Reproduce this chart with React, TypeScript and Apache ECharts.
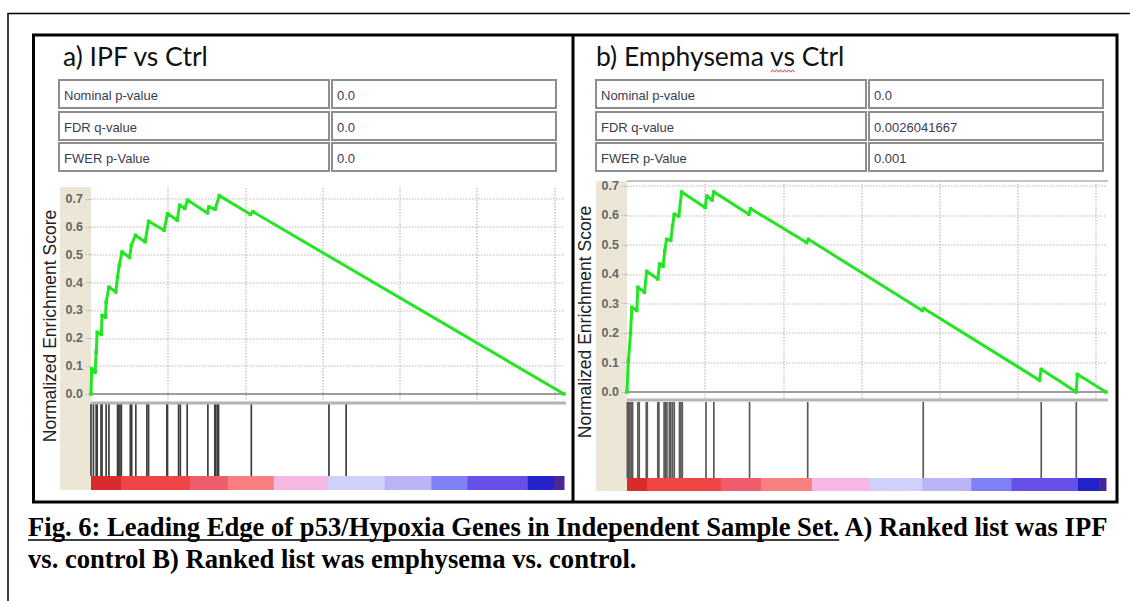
import React, { useEffect, useRef } from "react";
import * as echarts from "echarts";

// ---------------- data ----------------
const N_GENES = 12250;
const X_TICK_STEP = 2000;

const leftTitle = "a) IPF vs Ctrl";
const rightTitle = "b) Emphysema vs Ctrl";
const statLabels = ["Nominal p-value", "FDR q-value", "FWER p-Value"];
const leftStats = ["0.0", "0.0", "0.0"];
const rightStats = ["0.0", "0.0026041667", "0.001"];
const yAxisTitle = "Normalized Enrichment Score";

const leftRunRank = [0, 18, 107, 134, 161, 268, 286, 375, 393, 464, 643, 688, 732, 804, 1000, 1045, 1152, 1402, 1491, 1893, 1982, 2232, 2295, 2429, 2500, 3009, 3054, 3214, 3322, 4125, 4197, 12250];
const leftRunES = [0, 0.09, 0.078, 0.15, 0.222, 0.214, 0.282, 0.276, 0.33, 0.384, 0.366, 0.42, 0.462, 0.51, 0.49, 0.534, 0.57, 0.546, 0.62, 0.588, 0.648, 0.624, 0.678, 0.666, 0.696, 0.65, 0.672, 0.663, 0.712, 0.645, 0.654, 0];
const leftHits = [0, 63, 134, 161, 259, 286, 393, 464, 688, 714, 750, 786, 1018, 1054, 1161, 1447, 1491, 1965, 1982, 2268, 2313, 2491, 3027, 3206, 3233, 3277, 3304, 4152, 6162, 6608];

const rightRunRank = [0, 36, 90, 125, 251, 278, 448, 502, 788, 833, 922, 967, 1012, 1119, 1164, 1209, 1325, 1397, 1997, 2042, 2176, 2221, 3116, 3161, 4594, 4639, 7549, 7594, 10549, 10594, 11490, 11517, 12250];
const rightRunES = [0, 0.107, 0.2, 0.288, 0.277, 0.356, 0.339, 0.41, 0.384, 0.435, 0.427, 0.48, 0.519, 0.515, 0.564, 0.604, 0.598, 0.68, 0.627, 0.666, 0.652, 0.68, 0.604, 0.623, 0.508, 0.519, 0.277, 0.284, 0.04, 0.077, 0.0, 0.06, 0];
const rightHits = [9, 36, 72, 107, 143, 278, 313, 493, 519, 788, 815, 949, 985, 1021, 1084, 1119, 1164, 1209, 1343, 1379, 1415, 2020, 2221, 3134, 4621, 7576, 10594, 11490];

const leftHeatBreaks = [0, 777, 2563, 3545, 4732, 6135, 7608, 8813, 9751, 11313, 11983, 12250];
const rightHeatBreaks = [0, 519, 2400, 3429, 4728, 6206, 7549, 8803, 9833, 11534, 12072, 12250];
const heatPalette = ["#d92b2b", "#ee4545", "#ef5d6c", "#f77f80", "#f6b8e2", "#cfd0fc", "#bab4f6", "#8080f6", "#6650e8", "#2323c9", "#4b2699"];

const captionUnderlined = "Fig. 6: Leading Edge of p53/Hypoxia Genes in Independent Sample Set.";
const captionRest = " A) Ranked list was IPF";
const captionLine2 = "vs. control B) Ranked list was emphysema vs. control.";

// ---------------- layout ----------------
const SANS = "'Liberation Sans', Arial, sans-serif";
const SERIF = "'Liberation Serif', 'Times New Roman', serif";
const TITLE_FONT = "Lato, 'Open Sans', sans-serif";
const CAP_SIZE = 26.6;
const TITLE_SIZE = 26.5;

const panels = [
  {
    title: leftTitle, stats: leftStats, rank: leftRunRank, es: leftRunES, hits: leftHits, heat: leftHeatBreaks,
    x0: 91, x1: 564, esTop: 188, esBot: 403, y0: 394, y7: 199, hitsTop: 404, hitsBot: 476, heatBot: 490,
    beigeX: 60, beigeTop: 187, titleX: 63, cells: [59, 329, 332, 556], yTitleX: 50, yTitleY: 326, topBorder: false,
    hitColor: "#3e3e3e",
  },
  {
    title: rightTitle, stats: rightStats, rank: rightRunRank, es: rightRunES, hits: rightHits, heat: rightHeatBreaks,
    x0: 627, x1: 1106, esTop: 181, esBot: 400, y0: 392, y7: 186, hitsTop: 402, hitsBot: 478, heatBot: 491,
    beigeX: 596, beigeTop: 181, titleX: 596, cells: [596, 866, 869, 1103], yTitleX: 585, yTitleY: 322, topBorder: true,
    hitColor: "#5a5a5a",
  },
];
const rowTops = [80, 112, 143];
const rowH = 28;

function measure(text: string, font: string): number {
  const c = document.createElement("canvas").getContext("2d");
  if (!c) return text.length * 10;
  c.font = font;
  return c.measureText(text).width;
}

function txt(text: string, x: number, y: number, o: any = {}) {
  const align = o.align || "left";
  const va = o.va || "middle";
  return {
    type: "text",
    x, y,
    rotation: o.rotation || 0,
    z: o.z ?? 20,
    silent: true,
    style: {
      text,
      fontSize: o.size || 13,
      fontFamily: o.family || SANS,
      fontWeight: o.weight || "normal",
      fill: o.color || "#000",
      align, textAlign: align,
      verticalAlign: va, textVerticalAlign: va,
    },
  };
}

export default function App() {
  const ref = useRef<HTMLDivElement>(null);
  useEffect(() => {
    if (!ref.current) return;
    const chart = echarts.init(ref.current, null, { renderer: "svg" });

    const grid: any[] = [];
    const xAxis: any[] = [];
    const yAxis: any[] = [];
    const series: any[] = [];
    const graphic: any[] = [];

    panels.forEach((p, pi) => {
      const per = (p.y0 - p.y7) / 0.7;
      const yMax = 0.7 + (p.y7 - p.esTop) / per;
      const yMin = -(p.esBot - p.y0) / per;
      const w = p.x1 - p.x0;
      const gi = pi * 3;
      grid.push({ left: p.x0, top: p.esTop, width: w, height: p.esBot - p.esTop });
      grid.push({ left: p.x0, top: p.hitsTop, width: w, height: p.hitsBot - p.hitsTop });
      grid.push({ left: p.x0, top: p.hitsBot, width: w, height: p.heatBot - p.hitsBot });

      xAxis.push({
        type: "value", gridIndex: gi, min: 0, max: N_GENES, interval: X_TICK_STEP,
        axisLine: { show: false }, axisTick: { show: false }, axisLabel: { show: false },
        splitLine: { show: true, showMinLine: false, showMaxLine: false, lineStyle: { type: "dotted", color: "#c8c8c8", width: 1.5 } },
      });
      yAxis.push({
        type: "value", gridIndex: gi, min: yMin, max: yMax, splitNumber: 8,
        axisLine: { show: false },
        axisTick: { show: true, length: 5, lineStyle: { color: "#aaa", type: "dotted" } },
        axisLabel: {
          show: true, showMinLabel: false, showMaxLabel: false, margin: 8,
          fontSize: 12.5, fontWeight: "bold", color: "#666", fontFamily: SANS,
          formatter: (v: number) => v.toFixed(1),
        },
        splitLine: { show: true, showMinLine: false, showMaxLine: false, lineStyle: { type: "dotted", color: "#cfcfcf", width: 1.5 } },
      });
      for (let k = 1; k <= 2; k++) {
        xAxis.push({ type: "value", gridIndex: gi + k, min: 0, max: N_GENES, show: false, splitLine: { show: false } });
        yAxis.push({ type: "value", gridIndex: gi + k, min: 0, max: 1, show: false, splitLine: { show: false } });
      }

      series.push({
        type: "line", xAxisIndex: gi, yAxisIndex: gi,
        data: p.rank.map((r, i) => [r, p.es[i]]),
        symbol: "rect", symbolSize: 3.5, showSymbol: true,
        itemStyle: { color: "#22e622" },
        lineStyle: { color: "#22e622", width: 3 },
        z: 5, silent: true,
        markLine: {
          silent: true, symbol: "none", label: { show: false },
          lineStyle: { color: "#9c9c9c", width: 2, type: "solid" },
          data: [{ yAxis: 0 }],
          z: 3,
        },
      });
      const hitColor = p.hitColor;
      series.push({
        type: "custom", xAxisIndex: gi + 1, yAxisIndex: gi + 1, silent: true,
        data: p.hits.map((h) => [h, 0]),
        renderItem: (_params: any, api: any) => {
          const a = api.coord([api.value(0), 1]);
          const b = api.coord([api.value(0), 0]);
          return { type: "line", shape: { x1: a[0], y1: a[1], x2: b[0], y2: b[1] }, style: { stroke: hitColor, lineWidth: 1.7 } };
        },
      });
      const segs = p.heat.slice(0, -1).map((s, i) => [s, p.heat[i + 1], i]);
      series.push({
        type: "custom", xAxisIndex: gi + 2, yAxisIndex: gi + 2, silent: true,
        data: segs,
        encode: { x: [0, 1] },
        renderItem: (_params: any, api: any) => {
          const a = api.coord([api.value(0), 1]);
          const b = api.coord([api.value(1), 0]);
          return {
            type: "rect",
            shape: { x: a[0], y: a[1], width: b[0] - a[0] + 0.5, height: b[1] - a[1] },
            style: { fill: heatPalette[api.value(2)] },
          };
        },
      });

      graphic.push({
        type: "rect", z: -1, silent: true,
        shape: { x: p.beigeX, y: p.beigeTop, width: p.x0 - p.beigeX, height: p.heatBot - p.beigeTop },
        style: { fill: "#ebe6d6" },
      });
      graphic.push(txt(p.title, p.titleX, 56, { size: TITLE_SIZE, family: TITLE_FONT, color: "#111" }));
      rowTops.forEach((ty, ri) => {
        graphic.push({ type: "rect", z: 5, silent: true, shape: { x: p.cells[0], y: ty, width: p.cells[1] - p.cells[0], height: rowH }, style: { fill: "#fff", stroke: "#8e8e8e", lineWidth: 2 } });
        graphic.push({ type: "rect", z: 5, silent: true, shape: { x: p.cells[2], y: ty, width: p.cells[3] - p.cells[2], height: rowH }, style: { fill: "#fff", stroke: "#8e8e8e", lineWidth: 2 } });
        graphic.push(txt(statLabels[ri], p.cells[0] + 5, ty + rowH / 2 + 1, { size: 13, color: "#3b3b52" }));
        graphic.push(txt(p.stats[ri], p.cells[2] + 5, ty + rowH / 2 + 1, { size: 13, color: "#3b3b52" }));
      });
      graphic.push(txt(yAxisTitle, p.yTitleX, p.yTitleY, { size: 17.5, color: "#222", align: "center", rotation: Math.PI / 2 }));
      graphic.push({
        type: "line", z: 30, silent: true,
        shape: { x1: p.x0, y1: p.esBot, x2: p.x1 + 2, y2: p.esBot },
        style: { stroke: "#b4b4b4", lineWidth: 3 },
      });
      if (p.topBorder) {
        graphic.push({
          type: "line", z: 30, silent: true,
          shape: { x1: p.x0, y1: p.esTop, x2: p.x1 + 2, y2: p.esTop },
          style: { stroke: "#c4c4c4", lineWidth: 2 },
        });
      }
    });

    graphic.push({ type: "polyline", z: 40, silent: true, shape: { points: [[8, 601], [8, 13.5], [1131, 13.5]] }, style: { stroke: "#000", lineWidth: 1.5, fill: null } });
    graphic.push({ type: "rect", z: 40, silent: true, shape: { x: 33.5, y: 35, width: 1083.5, height: 467 }, style: { stroke: "#000", lineWidth: 3, fill: null } });
    graphic.push({ type: "line", z: 40, silent: true, shape: { x1: 573, y1: 35, x2: 573, y2: 502 }, style: { stroke: "#000", lineWidth: 3 } });

    const tf = `${TITLE_SIZE}px Lato`;
    const sx0 = panels[1].titleX + measure("b) Emphysema ", tf);
    const sx1 = sx0 + measure("vs", tf);
    const pts: number[][] = [];
    for (let x = sx0, k = 0; x <= sx1; x += 2, k++) pts.push([x, 71 + (k % 2 ? -1.2 : 1.2)]);
    graphic.push({ type: "polyline", z: 25, silent: true, shape: { points: pts }, style: { stroke: "#e52b2b", lineWidth: 1, fill: null } });

    const capFont = `bold ${CAP_SIZE}px 'Liberation Serif'`;
    const uw = measure(captionUnderlined, capFont);
    graphic.push(txt(captionUnderlined, 28, 527, { size: CAP_SIZE, family: SERIF, weight: "bold", color: "#000" }));
    graphic.push(txt(captionRest, 28 + uw, 527, { size: CAP_SIZE, family: SERIF, weight: "bold", color: "#000" }));
    graphic.push({ type: "line", z: 25, silent: true, shape: { x1: 28, y1: 540, x2: 28 + uw, y2: 540 }, style: { stroke: "#000", lineWidth: 1.5 } });
    graphic.push(txt(captionLine2, 28, 559, { size: CAP_SIZE, family: SERIF, weight: "bold", color: "#000" }));

    chart.setOption({
      animation: false,
      backgroundColor: "#fff",
      grid, xAxis, yAxis, series, graphic,
    });
    return () => chart.dispose();
  }, []);
  return <div ref={ref} style={{ position: "absolute", left: 0, top: 0, width: 1130, height: 601 }} />;
}
